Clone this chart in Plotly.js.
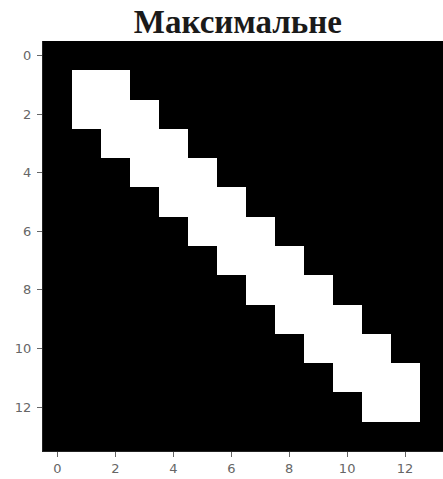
<!DOCTYPE html>
<html>
<head>
<meta charset="utf-8">
<script src="https://cdn.plot.ly/plotly-3.0.1.min.js"></script>
<style>html,body{margin:0;padding:0;background:#fff;}</style>
</head>
<body>
<div id="chart" style="width:443px;height:479px;"></div>
<script>
var titleText = "Максимальне";
var xIndex = [0,1,2,3,4,5,6,7,8,9,10,11,12,13];
var yIndex = [0,1,2,3,4,5,6,7,8,9,10,11,12,13];
var tickVals = [0,2,4,6,8,10,12];
var pixelValues = [
  [0,0,0,0,0,0,0,0,0,0,0,0,0,0],
  [0,1,1,0,0,0,0,0,0,0,0,0,0,0],
  [0,1,1,1,0,0,0,0,0,0,0,0,0,0],
  [0,0,1,1,1,0,0,0,0,0,0,0,0,0],
  [0,0,0,1,1,1,0,0,0,0,0,0,0,0],
  [0,0,0,0,1,1,1,0,0,0,0,0,0,0],
  [0,0,0,0,0,1,1,1,0,0,0,0,0,0],
  [0,0,0,0,0,0,1,1,1,0,0,0,0,0],
  [0,0,0,0,0,0,0,1,1,1,0,0,0,0],
  [0,0,0,0,0,0,0,0,1,1,1,0,0,0],
  [0,0,0,0,0,0,0,0,0,1,1,1,0,0],
  [0,0,0,0,0,0,0,0,0,0,1,1,1,0],
  [0,0,0,0,0,0,0,0,0,0,0,1,1,0],
  [0,0,0,0,0,0,0,0,0,0,0,0,0,0]
];

var trace = {
  type: 'heatmap',
  x: xIndex,
  y: yIndex,
  z: pixelValues,
  zmin: 0,
  zmax: 1,
  colorscale: [[0,'#000000'],[1,'#ffffff']],
  showscale: false,
  hoverinfo: 'skip'
};

var axisFont = {family: 'DejaVu Sans, sans-serif', size: 13, color: '#666666'};

var layout = {
  width: 443,
  height: 479,
  margin: {l: 42.5, r: 0, t: 40.5, b: 28},
  paper_bgcolor: '#ffffff',
  plot_bgcolor: '#000000',
  title: {
    text: '<b>' + titleText + '</b>',
    font: {family: 'Liberation Serif, Times New Roman, serif', size: 33, color: '#1a1a1a'},
    x: 0.537, xref: 'container', xanchor: 'center',
    y: 0.955, yref: 'container', yanchor: 'middle'
  },
  xaxis: {
    range: [-0.5, 13.31],
    tickvals: tickVals,
    ticks: 'outside', ticklen: 5, tickwidth: 1, tickcolor: '#666666',
    tickfont: axisFont,
    showgrid: false, zeroline: false,
    showline: true, linecolor: '#222222', linewidth: 1
  },
  yaxis: {
    range: [13.5, -0.5],
    tickvals: tickVals,
    ticks: 'outside', ticklen: 5, tickwidth: 1, tickcolor: '#666666',
    tickfont: axisFont,
    ticklabelstandoff: 3,
    showgrid: false, zeroline: false,
    showline: true, linecolor: '#222222', linewidth: 1
  },
  showlegend: false
};

Plotly.newPlot('chart', [trace], layout, {displayModeBar: false, staticPlot: true});
</script>
</body>
</html>
